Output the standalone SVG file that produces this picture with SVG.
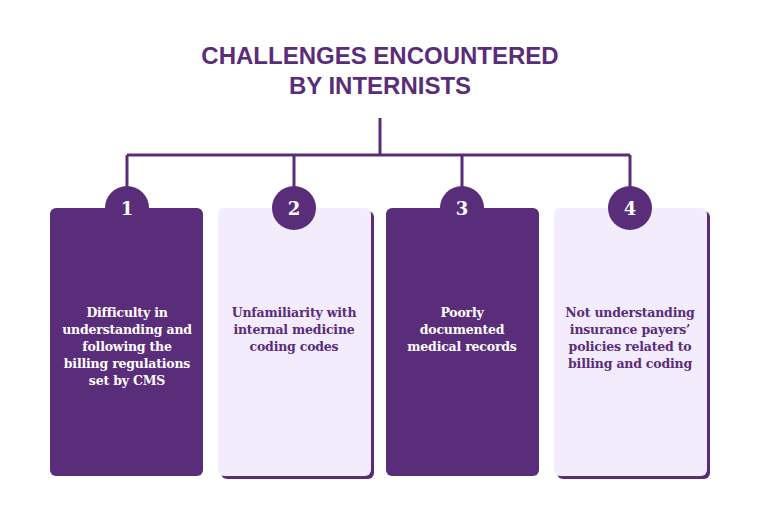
<svg xmlns="http://www.w3.org/2000/svg" width="760" height="531" viewBox="0 0 760 531">
<style>
.t{font-family:"Liberation Sans",Arial,sans-serif;font-weight:900;font-size:24px;fill:#5a2d7a;text-anchor:middle}
.b{font-family:"DejaVu Serif",serif;font-weight:bold;font-size:12.5px;text-anchor:middle;letter-spacing:-0.2px}
.w{fill:#ffffff}.p{fill:#5a2d7a}
.n{font-family:"DejaVu Serif",serif;font-weight:bold;font-size:18px;fill:#ffffff;text-anchor:middle}
.ln{stroke:#5a2d7a;stroke-width:3;fill:none}
</style>
<rect width="760" height="531" fill="#ffffff"/>
<text class="t" x="380" y="64">CHALLENGES ENCOUNTERED</text>
<text class="t" x="380" y="94">BY INTERNISTS</text>
<g id="connectors">
<path class="ln" d="M380 118V155M127 155H630M127 155V190M294 155V190M462 155V190M630 155V190"/>
</g>
<g id="node1">
<rect x="50" y="208" width="153" height="268" rx="6" fill="#5a2d7a"/>
<circle cx="127" cy="208" r="22" fill="#5a2d7a"/>
<text class="n" x="127" y="215">1</text>
<text class="b w" x="127" y="317">Difficulty in</text>
<text class="b w" x="127" y="334">understanding and</text>
<text class="b w" x="127" y="351">following the</text>
<text class="b w" x="127" y="368">billing regulations</text>
<text class="b w" x="127" y="385">set by CMS</text>
</g>
<g id="node2">
<rect x="221" y="211" width="153" height="268" rx="6" fill="#5a2d7a"/>
<rect x="218" y="208" width="153" height="268" rx="6" fill="#f3ecfc"/>
<circle cx="294" cy="208" r="22" fill="#5a2d7a"/>
<text class="n" x="294" y="215">2</text>
<text class="b p" x="294" y="317">Unfamiliarity with</text>
<text class="b p" x="294" y="334">internal medicine</text>
<text class="b p" x="294" y="351">coding codes</text>
</g>
<g id="node3">
<rect x="386" y="208" width="153" height="268" rx="6" fill="#5a2d7a"/>
<circle cx="462" cy="208" r="22" fill="#5a2d7a"/>
<text class="n" x="462" y="215">3</text>
<text class="b w" x="462" y="317">Poorly</text>
<text class="b w" x="462" y="334">documented</text>
<text class="b w" x="462" y="351">medical records</text>
</g>
<g id="node4">
<rect x="557" y="211" width="153" height="268" rx="6" fill="#5a2d7a"/>
<rect x="554" y="208" width="153" height="268" rx="6" fill="#f3ecfc"/>
<circle cx="630" cy="208" r="22" fill="#5a2d7a"/>
<text class="n" x="630" y="215">4</text>
<text class="b p" x="630" y="317">Not understanding</text>
<text class="b p" x="630" y="334">insurance payers’</text>
<text class="b p" x="630" y="351">policies related to</text>
<text class="b p" x="630" y="368">billing and coding</text>
</g>
</svg>
